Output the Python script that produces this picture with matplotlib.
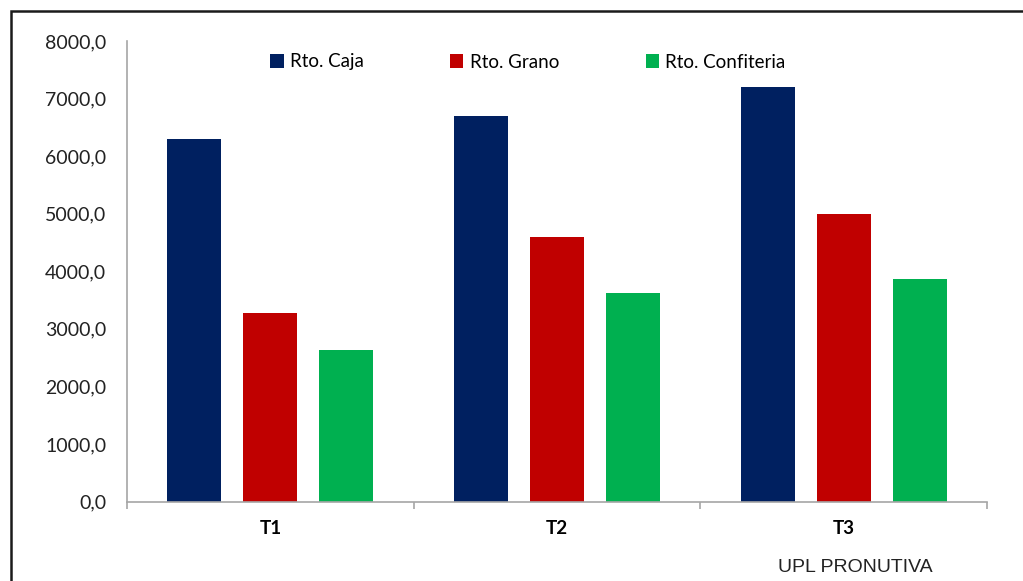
import numpy as np
import matplotlib.pyplot as plt
from matplotlib.patches import Rectangle
from matplotlib.ticker import FuncFormatter

categorias = ["T1", "T2", "T3"]
series = ["Rto. Caja", "Rto. Grano", "Rto. Confiteria"]
caja = [6290, 6700, 7200]
grano = [3270, 4600, 4990]
confiteria = [2630, 3630, 3860]
colores = ["#002060", "#C00000", "#00B050"]

plt.rcParams['font.family'] = ['Lato', 'DejaVu Sans']

fig = plt.figure(figsize=(10.23, 5.81), dpi=100)
ax = fig.add_axes([127/1023, 1-501.5/581, 860/1023, 460.5/581])

x = np.arange(len(categorias))
ancho = 0.188
paso = 0.265
for k, (vals, nombre) in enumerate(zip([caja, grano, confiteria], series)):
    ax.bar(x + (k-1)*paso, vals, ancho, color=colores[k], label=nombre)

ax.set_xlim(-0.5, 2.5)
ax.set_ylim(0, 8000)
ax.set_yticks(np.arange(0, 8001, 1000))
ax.yaxis.set_major_formatter(FuncFormatter(lambda v, p: f"{v:.1f}".replace(".", ",")))
ax.tick_params(axis='y', length=0, pad=15, labelsize=14, labelcolor='#222222')

ax.set_xticks(x)
ax.set_xticklabels(categorias, fontweight='bold')
ax.set_xticks([-0.5, 0.5, 1.5, 2.5], minor=True)
ax.tick_params(axis='x', which='major', length=0, pad=13, labelsize=13.5)
ax.tick_params(axis='x', which='minor', length=5, width=1.2, color='#a6a6a6', direction='out')

for s in ['top', 'right']:
    ax.spines[s].set_visible(False)
for s in ['left', 'bottom']:
    ax.spines[s].set_color('#a6a6a6')
    ax.spines[s].set_linewidth(1.2)

leg = fig.legend(loc='center', bbox_to_anchor=(528/1023, 1-62/581), ncol=3, frameon=False,
                 fontsize=13.5, handlelength=0.7, handleheight=0.7, handletextpad=0.35,
                 columnspacing=4.6)

fig.text(855/1023, 1-567/581, "UPL PRONUTIVA", ha='center', va='center',
         fontsize=14, family=['Liberation Sans', 'DejaVu Sans'], color='#222222')

# marco exterior
fig.patches.append(Rectangle((11/1023, -0.1), 1.2, 1 - 11/581 + 0.1, transform=fig.transFigure,
                             fill=False, edgecolor='#1a1a1a', linewidth=1.8))

fig.savefig("out.png", dpi=100)
